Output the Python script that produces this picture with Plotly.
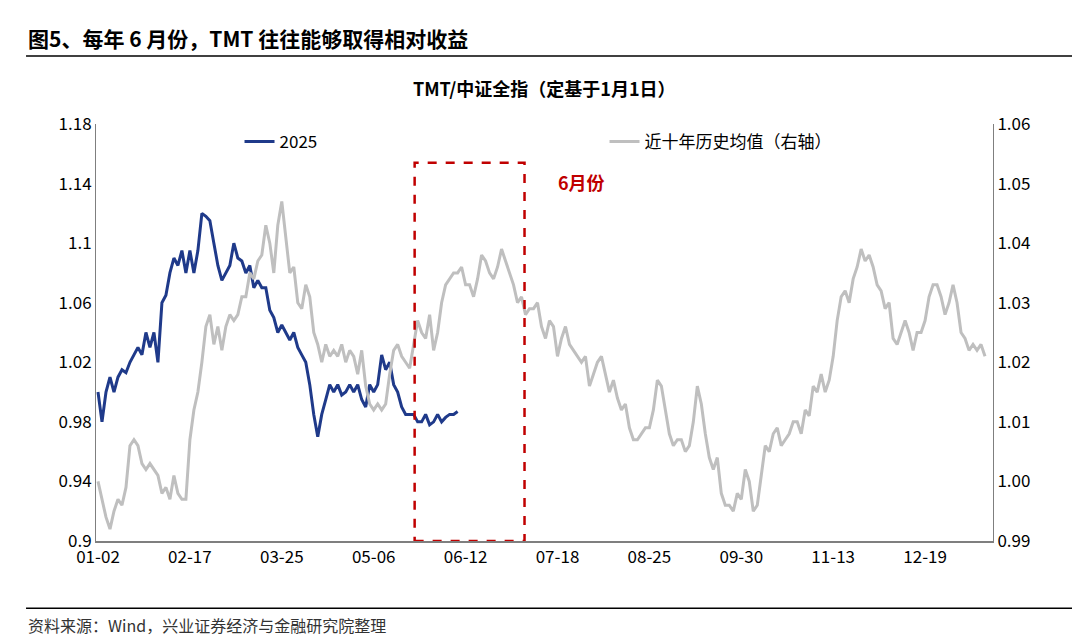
import plotly.graph_objects as go

# x positions are trading-day indices; tick labels below
tick_pos = [0, 23, 46, 69, 92, 115, 138, 161, 184, 207]
tick_text = ["01-02", "02-17", "03-25", "05-06", "06-12", "07-18", "08-25", "09-30", "11-13", "12-19"]

tmt_2025 = [1.00, 0.98, 1.00, 1.01, 1.00, 1.01, 1.015, 1.013, 1.02, 1.025, 1.03, 1.025, 1.04, 1.03,
            1.04, 1.02, 1.06, 1.065, 1.08, 1.09, 1.085, 1.095, 1.08, 1.095, 1.08, 1.095, 1.12, 1.118,
            1.115, 1.10, 1.085, 1.075, 1.08, 1.085, 1.10, 1.09, 1.088, 1.08, 1.085, 1.07, 1.075, 1.07,
            1.07, 1.055, 1.05, 1.04, 1.045, 1.04, 1.035, 1.04, 1.03, 1.025, 1.02, 1.005, 0.985, 0.97,
            0.985, 0.995, 1.005, 1.00, 1.005, 0.998, 1.00, 1.005, 1.00, 1.005, 0.995, 0.99, 1.005, 1.00,
            1.005, 1.025, 1.015, 1.02, 1.005, 1.00, 0.99, 0.985, 0.985, 0.985, 0.98, 0.98, 0.985, 0.978,
            0.98, 0.985, 0.98, 0.983, 0.985, 0.985, 0.987]

hist_avg = [1.000, 0.997, 0.994, 0.992, 0.995, 0.997, 0.996, 0.999, 1.006, 1.007, 1.006, 1.003, 1.002,
            1.003, 1.002, 1.001, 0.998, 0.999, 0.997, 1.001, 0.998, 0.997, 0.997, 1.007, 1.012, 1.015,
            1.020, 1.026, 1.028, 1.023, 1.026, 1.022, 1.026, 1.028, 1.027, 1.028, 1.031, 1.031, 1.035,
            1.034, 1.037, 1.038, 1.043, 1.040, 1.035, 1.043, 1.047, 1.041, 1.035, 1.036, 1.030, 1.029,
            1.033, 1.031, 1.025, 1.023, 1.020, 1.023, 1.021, 1.022, 1.021, 1.023, 1.020, 1.022, 1.021,
            1.018, 1.022, 1.016, 1.013, 1.012, 1.013, 1.012, 1.013, 1.018, 1.022, 1.023, 1.021, 1.020,
            1.019, 1.023, 1.027, 1.025, 1.024, 1.028, 1.022, 1.025, 1.030, 1.033, 1.034, 1.035, 1.035,
            1.036, 1.033, 1.033, 1.031, 1.034, 1.038, 1.037, 1.035, 1.034, 1.036, 1.039, 1.037, 1.035,
            1.033, 1.030, 1.031, 1.028, 1.029, 1.029, 1.030, 1.026, 1.024, 1.027, 1.026, 1.021, 1.024,
            1.026, 1.023, 1.022, 1.021, 1.020, 1.021, 1.016, 1.018, 1.020, 1.021, 1.018, 1.015, 1.017,
            1.014, 1.012, 1.013, 1.009, 1.007, 1.007, 1.008, 1.009, 1.009, 1.012, 1.017, 1.016, 1.012,
            1.008, 1.006, 1.007, 1.007, 1.005, 1.006, 1.010, 1.016, 1.013, 1.008, 1.004, 1.002, 1.004,
            0.998, 0.996, 0.996, 0.995, 0.998, 0.997, 1.002, 1.000, 0.995, 0.996, 1.001, 1.006, 1.005,
            1.008, 1.009, 1.006, 1.007, 1.008, 1.010, 1.010, 1.008, 1.012, 1.011, 1.016, 1.015, 1.018,
            1.015, 1.017, 1.021, 1.027, 1.031, 1.032, 1.030, 1.034, 1.036, 1.039, 1.037, 1.038, 1.036,
            1.033, 1.032, 1.029, 1.030, 1.024, 1.023, 1.025, 1.027, 1.025, 1.022, 1.025, 1.025, 1.027,
            1.031, 1.033, 1.033, 1.031, 1.028, 1.030, 1.033, 1.030, 1.025, 1.024, 1.022, 1.023, 1.022,
            1.023, 1.021]

june_box = [79.25, 106.75, 0.9, 1.154]

FONT = "Noto Sans CJK SC, Noto Sans, sans-serif"

fig = go.Figure()
fig.add_trace(go.Scatter(x=list(range(len(tmt_2025))), y=tmt_2025, name="2025", mode="lines",
                         line=dict(color="#1f3a8a", width=3)))
fig.add_trace(go.Scatter(x=list(range(len(hist_avg))), y=hist_avg, name="近十年历史均值（右轴）",
                         mode="lines", yaxis="y2", line=dict(color="#bfbfbf", width=3)))

fig.add_shape(type="rect", xref="x", yref="y", x0=june_box[0], x1=june_box[1],
              y0=june_box[2], y1=june_box[3], line=dict(color="#c00000", width=2.5, dash="dash"))
fig.add_annotation(x=121, y=1.141, xref="x", yref="y", text="<b>6月份</b>", showarrow=False,
                   font=dict(color="#c00000", size=18))

# paper coords relative to plot area (left 88px, width 897px; bottom 533px, height 417px)
fig.add_annotation(x=-0.078, y=1.206, xref="paper", yref="paper", xanchor="left", yanchor="middle",
                   text="<b>图5、每年 6 月份，TMT 往往能够取得相对收益</b>", showarrow=False,
                   font=dict(size=21, color="black"))
fig.add_annotation(x=0.5, y=1.086, xref="paper", yref="paper", xanchor="center", yanchor="middle",
                   text="<b>TMT/中证全指（定基于1月1日）</b>", showarrow=False,
                   font=dict(size=18, color="black"))
fig.add_annotation(x=-0.078, y=-0.201, xref="paper", yref="paper", xanchor="left", yanchor="middle",
                   text="资料来源：Wind，兴业证券经济与金融研究院整理", showarrow=False,
                   font=dict(size=16, color="#333333"))
fig.add_shape(type="line", xref="paper", yref="paper", x0=-0.078, x1=1.089, y0=1.163, y1=1.163,
              line=dict(color="black", width=1.5))
fig.add_shape(type="line", xref="paper", yref="paper", x0=-0.078, x1=1.089, y0=-0.161, y1=-0.161,
              line=dict(color="black", width=1.5))

fig.update_layout(
    width=1080, height=636, plot_bgcolor="white", paper_bgcolor="white",
    margin=dict(l=88, r=95, t=116, b=103),
    font=dict(family=FONT, size=17, color="black"),
    showlegend=True,
    legend=dict(orientation="h", x=0.16, y=1.0, xanchor="left", yanchor="top",
                font=dict(size=17), entrywidth=320, bgcolor="rgba(0,0,0,0)"),
    xaxis=dict(range=[-0.5, 224], tickvals=tick_pos, ticktext=tick_text, showgrid=False,
               showline=True, linecolor="#7f7f7f", linewidth=1.5, ticks="", zeroline=False),
    yaxis=dict(range=[0.9, 1.18], tickvals=[0.9, 0.94, 0.98, 1.02, 1.06, 1.1, 1.14, 1.18],
               ticktext=["0.9", "0.94", "0.98", "1.02", "1.06", "1.1", "1.14", "1.18"],
               showgrid=False, showline=True, linecolor="#7f7f7f", zeroline=False, ticks=""),
    yaxis2=dict(range=[0.99, 1.06], overlaying="y", side="right",
                tickvals=[0.99, 1.00, 1.01, 1.02, 1.03, 1.04, 1.05, 1.06],
                ticktext=["0.99", "1.00", "1.01", "1.02", "1.03", "1.04", "1.05", "1.06"],
                showgrid=False, showline=True, linecolor="#7f7f7f", zeroline=False, ticks=""),
)

fig.write_html("out.html")
